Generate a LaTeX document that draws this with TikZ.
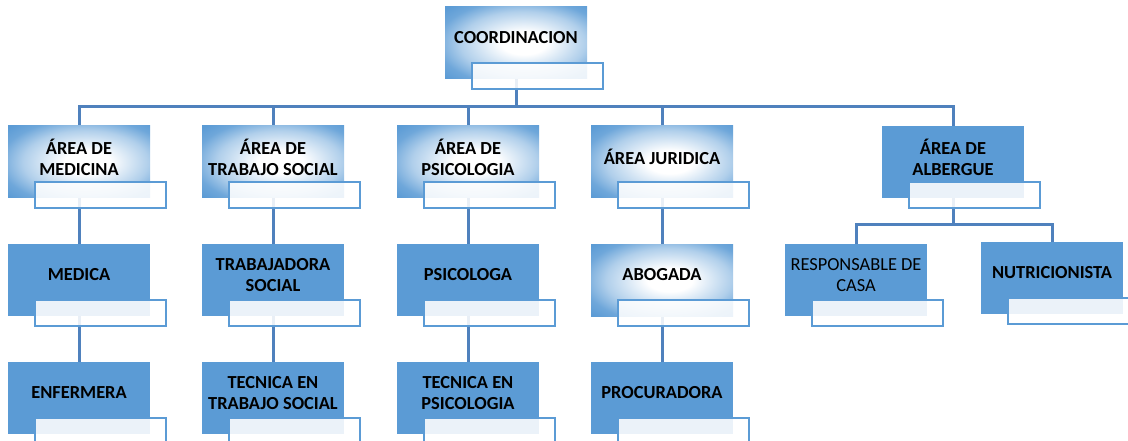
\documentclass[tikz,border=0pt]{standalone}
\usepackage{fontspec}
\setmainfont{Carlito}
\usetikzlibrary{backgrounds}
\definecolor{boxblue}{HTML}{5B9BD5}
\definecolor{connblue}{HTML}{4F81BD}
\pgfdeclareradialshading{officeglow}{\pgfpoint{3bp}{0bp}}{color(0bp)=(white); color(8bp)=(white); color(22bp)=(boxblue!48!white); color(30bp)=(boxblue!88!white); color(36bp)=(boxblue); color(100bp)=(boxblue)}
\tikzset{
  bigbox/.style={minimum width=142pt, minimum height=72pt, inner sep=0pt, outer sep=0pt},
  solidbox/.style={bigbox, fill=boxblue},
  glowbox/.style={bigbox, shading=officeglow},
  smallbox/.style={minimum width=131pt, minimum height=26pt, inner sep=0pt, outer sep=0pt, draw=boxblue, line width=2pt, fill=white, fill opacity=0.88},
  labeltext/.style={align=center, font=\fontsize{18.4}{21}\selectfont\bfseries, text=black, inner sep=0pt},
  plaintext/.style={align=center, font=\fontsize{18.4}{21}\selectfont, text=black, inner sep=0pt},
  conn/.style={draw=connblue, line width=3pt}
}
\newcommand\orgunit[6]{%
  \node[#4, anchor=north west] (#1) at (#2,#3) {};
  \node[smallbox, anchor=north west] (#1s) at ([xshift=27pt,yshift=-56pt]#1.north west) {};
  \node[#6] (#1t) at ([yshift=-31pt]#1.north) {#5};
}
\begin{document}
\begin{tikzpicture}[x=1pt,y=-1pt]
\useasboundingbox (0,0) rectangle (1128,441);
\orgunit{coord}{445}{7}{glowbox}{COORDINACION}{labeltext}
\orgunit{med}{8}{126}{glowbox}{ÁREA DE\\MEDICINA}{labeltext}
\orgunit{ts}{202}{126}{glowbox}{ÁREA DE\\TRABAJO SOCIAL}{labeltext}
\orgunit{psi}{397}{126}{glowbox}{ÁREA DE\\PSICOLOGIA}{labeltext}
\orgunit{jur}{591}{126}{glowbox}{ÁREA JURIDICA}{labeltext}
\orgunit{alb}{882}{126}{solidbox}{ÁREA DE\\ALBERGUE}{labeltext}
\orgunit{medica}{8}{244}{solidbox}{MEDICA}{labeltext}
\orgunit{tsoc}{202}{244}{solidbox}{TRABAJADORA\\SOCIAL}{labeltext}
\orgunit{psic}{397}{244}{solidbox}{PSICOLOGA}{labeltext}
\orgunit{abog}{591}{244}{glowbox}{ABOGADA}{labeltext}
\orgunit{enf}{8}{362}{solidbox}{ENFERMERA}{labeltext}
\orgunit{tects}{202}{362}{solidbox}{TECNICA EN\\TRABAJO SOCIAL}{labeltext}
\orgunit{tecpsi}{397}{362}{solidbox}{TECNICA EN\\PSICOLOGIA}{labeltext}
\orgunit{proc}{591}{362}{solidbox}{PROCURADORA}{labeltext}
\orgunit{resp}{785}{244}{solidbox}{RESPONSABLE DE\\CASA}{plaintext}
\orgunit{nutri}{981}{242}{solidbox}{NUTRICIONISTA}{labeltext}
\coordinate (busY) at (0,107);
\coordinate (albY) at (0,224);
\begin{scope}[on background layer]
  \draw[conn] (coord.center) |- (med.center |- busY) -- (med.center);
  \draw[conn] (coord.center) |- (alb.center |- busY) -- (alb.center);
  \draw[conn] (ts.center |- busY) -- (ts.center);
  \draw[conn] (psi.center |- busY) -- (psi.center);
  \draw[conn] (jur.center |- busY) -- (jur.center);
  \draw[conn] (med.center) -- (medica.center) -- (enf.center);
  \draw[conn] (ts.center) -- (tsoc.center) -- (tects.center);
  \draw[conn] (psi.center) -- (psic.center) -- (tecpsi.center);
  \draw[conn] (jur.center) -- (abog.center) -- (proc.center);
  \draw[conn] (alb.center) |- (resp.center |- albY) -- (resp.center);
  \draw[conn] (alb.center) |- (nutri.center |- albY) -- (nutri.center);
\end{scope}
\end{tikzpicture}
\end{document}
